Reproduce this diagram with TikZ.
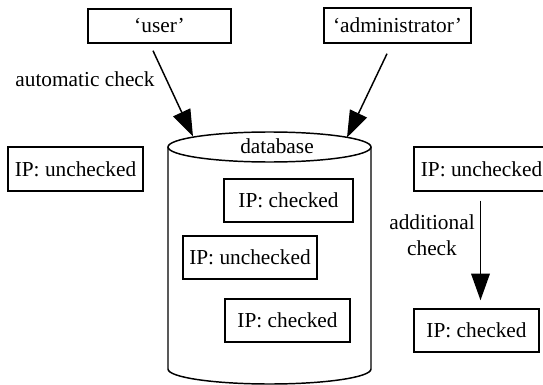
\documentclass[tikz,border=0pt]{standalone}
\usepackage{fontspec}
\setmainfont{Liberation Serif}
\usetikzlibrary{arrows.meta,calc}
\begin{document}
\begin{tikzpicture}[x=0.75pt,y=-0.75pt,
  every node/.style={font=\fontsize{16}{19.5}\selectfont},
  box/.style n args={2}{draw,line width=1.1pt,inner sep=0pt,
    minimum width=#1*0.75pt,minimum height=#2*0.75pt},
  arr/.style={line width=1.1pt,-{Triangle[length=20pt,width=14pt]}},
  outline/.style={line width=1.1pt}]
\useasboundingbox (0,0) rectangle (543,385);
\clip (0,0) rectangle (543,385);

% source roles
\node[box={143}{34}] (user)  at (159.5,26)  {‘user’};
\node[box={147}{35}] (admin) at (397.5,25.5) {‘administrator’};
\node (auto) at (85,79) {automatic check};

% database cylinder
\draw[outline] (269.5,147) ellipse [x radius=101.5, y radius=15];
\draw[outline] (168,147) -- (168,369)
  arc[start angle=180, end angle=0, x radius=101.5, y radius=15] -- (371,147);
\node (db) at (277,146) {database};
\coordinate (dbL) at (193,136.5);
\coordinate (dbR) at (347,137.5);

% records inside the database
\node[box={129}{43}] (in1) at (288.5,200.5) {IP: checked};
\node[box={134}{43}] (in2) at (250,257.5)   {IP: unchecked};
\node[box={125}{43}] (in3) at (287.5,320.5) {IP: checked};

% records outside
\node[box={135}{44}] (ipL)  at (75.5,169)  {IP: unchecked};
\node[box={135}{44}] (ipR)  at (481.5,169) {IP: unchecked};
\node[box={125}{43}] (chkR) at (476.5,330.5) {IP: checked};
\node[align=center] (addl) at (432,235) {additional\\check};

% connectors
\draw[arr] ($(user.south)+(-6.5,7)$) -- (dbL);
\draw[arr] ($(admin.south)+(-10.5,10)$) -- (dbR);
\draw[arr] ($(ipR.south)+(-1,9)$) -- ($(chkR.north)+(4,-8)$);
\end{tikzpicture}
\end{document}
